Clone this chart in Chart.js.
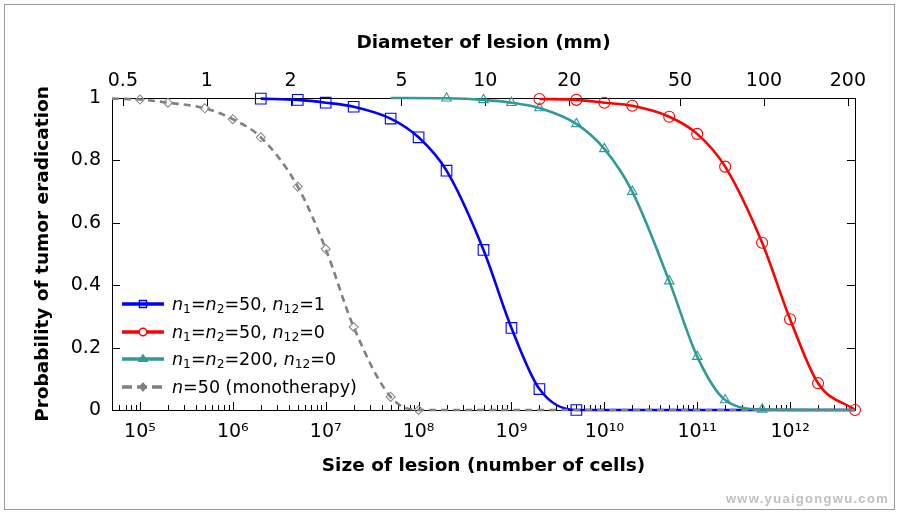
<!DOCTYPE html>
<html>
<head>
<meta charset="utf-8">
<script src="https://cdn.jsdelivr.net/npm/chart.js@4.4.1/dist/chart.umd.min.js"></script>
<style>
    body { margin: 0; background: #fff; }
    #wrap { position: relative; width: 898px; height: 512px; }
    #outer { position: absolute; left: 4px; top: 4px; width: 889px; height: 504px; border: 1px solid #9c9c9c; }
    #legend { position: absolute; left: 0; top: 0; font-family: "DejaVu Sans", sans-serif; font-size: 17.5px; color: #000; }
    .row { position: absolute; left: 121px; height: 28px; display: flex; align-items: center; white-space: nowrap; }
    .row svg { margin-right: 7px; }
    .row sub { font-size: 70%; vertical-align: -0.28em; line-height: 0; }
    #mark { position: absolute; right: 9px; top: 491px; font: bold 13px "Liberation Sans", sans-serif; letter-spacing: 1.3px; color: #c0c0c0; }
</style>
</head>
<body>
<div id="wrap">
    <canvas id="chart" width="898" height="512"></canvas>
    <div id="outer"></div>
    <div id="legend"></div>
    <div id="mark">www.yuaigongwu.com</div>
</div>
<script>
// axes
const xMin = 5e4;
const xMax = 5e12;
const cellTicks = [1e5, 1e6, 1e7, 1e8, 1e9, 1e10, 1e11, 1e12];
const cellTickLabels = ['10⁵', '10⁶', '10⁷', '10⁸', '10⁹', '10¹⁰', '10¹¹', '10¹²'];
const diamTicks = [0.5, 1, 2, 5, 10, 20, 50, 100, 200];
const diamTickLabels = ['0.5', '1', '2', '5', '10', '20', '50', '100', '200'];
const probTicks = [0, 0.2, 0.4, 0.6, 0.8, 1];
const probTickLabels = ['0', '0.2', '0.4', '0.6', '0.8', '1'];
const cellsPerMm3 = 1e6;

// n1=n2=50, n12=1
const blueCells = [2e6, 5e6, 1e7, 2e7, 5e7, 1e8, 2e8, 5e8, 1e9, 2e9, 5e9];
const blueProb = [0.998, 0.994, 0.985, 0.972, 0.934, 0.874, 0.767, 0.513, 0.263, 0.067, 0];
const blueTail = [[xMax, 0]];

// n1=n2=50, n12=0
const redCells = [2e9, 5e9, 1e10, 2e10, 5e10, 1e11, 2e11, 5e11, 1e12, 2e12, 5e12];
const redProb = [0.997, 0.994, 0.985, 0.975, 0.94, 0.885, 0.78, 0.536, 0.291, 0.086, 0];

// n1=n2=200, n12=0
const tealCells = [2e8, 5e8, 1e9, 2e9, 5e9, 1e10, 2e10, 5e10, 1e11, 2e11, 5e11];
const tealProb = [0.999, 0.994, 0.985, 0.968, 0.917, 0.837, 0.70, 0.413, 0.171, 0.032, 0.002];
const tealHead = [[5e7, 1]];
const tealTail = [[xMax, 0]];

// n=50 monotherapy
const grayCells = [1e5, 2e5, 5e5, 1e6, 2e6, 5e6, 1e7, 2e7, 5e7, 1e8];
const grayProb = [0.995, 0.985, 0.967, 0.932, 0.874, 0.716, 0.516, 0.266, 0.042, 0];
const grayHead = [[xMin, 0.998]];
const grayTail = [[xMax, 0]];

const legendLabels = [
    '<i>n</i><sub>1</sub>=<i>n</i><sub>2</sub>=50, <i>n</i><sub>12</sub>=1',
    '<i>n</i><sub>1</sub>=<i>n</i><sub>2</sub>=50, <i>n</i><sub>12</sub>=0',
    '<i>n</i><sub>1</sub>=<i>n</i><sub>2</sub>=200, <i>n</i><sub>12</sub>=0',
    '<i>n</i>=50 (monotherapy)'
];

const BLUE = '#0000ff', RED = '#ff0000', TEAL = '#2f9a9a', GRAY = '#808080';
const FONT = '"DejaVu Sans", sans-serif';

const dMin = Math.cbrt(xMin / (Math.PI / 6 * cellsPerMm3));
const dMax = Math.cbrt(xMax / (Math.PI / 6 * cellsPerMm3));

function pts(cells, prob) {
    return cells.map((c, i) => ({ x: c, y: prob[i] }));
}
function pairs(list) {
    return (list || []).map(p => ({ x: p[0], y: p[1] }));
}

function lineSet(cells, prob, head, tail, color, order, dash) {
    return {
        data: pairs(head).concat(pts(cells, prob), pairs(tail)),
        borderColor: color,
        borderWidth: 2.6,
        borderDash: dash || [],
        pointRadius: 0,
        cubicInterpolationMode: 'monotone',
        fill: false,
        clip: false,
        order: order
    };
}
function markSet(cells, prob, color, style, radius, order) {
    return {
        data: pts(cells, prob),
        showLine: false,
        pointStyle: style,
        pointRadius: radius,
        pointBorderColor: color,
        pointBackgroundColor: 'rgba(0,0,0,0)',
        pointBorderWidth: 1.1,
        clip: false,
        order: order
    };
}

// inward ticks + frame, like the original plot
const innerTicks = {
    id: 'innerTicks',
    beforeDatasetsDraw(chart) {
        const { ctx, chartArea: a, scales } = chart;
        ctx.save();
        ctx.strokeStyle = '#000';
        ctx.lineWidth = 1;
        ctx.beginPath();
        cellTicks.concat([1e4]).forEach(dec => {
            for (let k = 1; k <= 9; k++) {
                const v = k * dec;
                if (v < xMin || v > xMax) continue;
                const px = Math.round(scales.x.getPixelForValue(v)) + 0.5;
                const len = k === 1 ? 8 : 5;
                ctx.moveTo(px, a.bottom);
                ctx.lineTo(px, a.bottom - len);
            }
        });
        diamTicks.forEach(v => {
            const px = Math.round(scales.x2.getPixelForValue(v)) + 0.5;
            ctx.moveTo(px, a.top);
            ctx.lineTo(px, a.top + 8);
        });
        probTicks.forEach(v => {
            const py = Math.round(scales.y.getPixelForValue(v)) + 0.5;
            ctx.moveTo(a.left, py);
            ctx.lineTo(a.left + 8, py);
            ctx.moveTo(a.right, py);
            ctx.lineTo(a.right - 8, py);
        });
        ctx.stroke();
        ctx.strokeRect(Math.round(a.left) + 0.5, Math.round(a.top) + 0.5,
            Math.round(a.right - a.left), Math.round(a.bottom - a.top));
        ctx.restore();
    }
};

Chart.defaults.font.family = FONT;
Chart.defaults.color = '#000';

new Chart(document.getElementById('chart'), {
    type: 'line',
    data: {
        datasets: [
            markSet(grayCells, grayProb, '#8c8c8c', 'rectRot', 4.5, 0),
            lineSet(grayCells, grayProb, grayHead, grayTail, GRAY, 1, [7, 5]),
            markSet(redCells, redProb, RED, 'circle', 5.5, 2),
            lineSet(redCells, redProb, null, null, RED, 3),
            markSet(tealCells, tealProb, TEAL, 'triangle', 5.5, 4),
            lineSet(tealCells, tealProb, tealHead, tealTail, TEAL, 5),
            markSet(blueCells, blueProb, BLUE, 'rect', 7.5, 6),
            lineSet(blueCells, blueProb, null, blueTail, BLUE, 7)
        ]
    },
    options: {
        responsive: false,
        animation: false,
        layout: { padding: { left: 0, right: 43, top: 0, bottom: 0 } },
        plugins: { legend: { display: false }, tooltip: { enabled: false } },
        scales: {
            x: {
                type: 'logarithmic',
                position: 'bottom',
                min: xMin,
                max: xMax,
                afterBuildTicks: s => { s.ticks = cellTicks.map(v => ({ value: v })); },
                afterFit: s => { s.height = 102; },
                grid: { display: false, drawTicks: false },
                border: { display: false },
                ticks: {
                    autoSkip: false, maxRotation: 0, padding: 11,
                    font: { size: 19 },
                    callback: (v, i) => cellTickLabels[i]
                },
                title: {
                    display: true, text: 'Size of lesion (number of cells)',
                    font: { size: 18.5, weight: 'bold' }, padding: { top: 0, bottom: 35 }
                }
            },
            x2: {
                type: 'logarithmic',
                position: 'top',
                min: dMin,
                max: dMax,
                afterBuildTicks: s => { s.ticks = diamTicks.map(v => ({ value: v })); },
                afterFit: s => { s.height = 98; },
                grid: { display: false, drawTicks: false },
                border: { display: false },
                ticks: {
                    autoSkip: false, maxRotation: 0, padding: 6,
                    font: { size: 19 },
                    callback: (v, i) => diamTickLabels[i]
                },
                title: {
                    display: true, text: 'Diameter of lesion (mm)',
                    font: { size: 18.5, weight: 'bold' }, padding: { top: 32, bottom: 0 }
                }
            },
            y: {
                min: 0,
                max: 1,
                afterBuildTicks: s => { s.ticks = probTicks.map(v => ({ value: v })); },
                afterFit: s => { s.width = 112; },
                grid: { display: false, drawTicks: false },
                border: { display: false },
                ticks: {
                    padding: 11,
                    font: { size: 19 },
                    callback: (v, i) => probTickLabels[i]
                },
                title: {
                    display: true, text: 'Probability of tumor eradication',
                    font: { size: 18.5, weight: 'bold' }, padding: { top: 32, bottom: 0 }
                }
            }
        }
    },
    plugins: [innerTicks]
});

// legend: line + marker, as in the original
const legendIcons = [
    '<line x1="1" y1="8" x2="43" y2="8" stroke="' + BLUE + '" stroke-width="3.5"/>' +
        '<rect x="18.5" y="4.5" width="7" height="7" fill="none" stroke="' + BLUE + '" stroke-width="1.5"/>',
    '<line x1="1" y1="8" x2="43" y2="8" stroke="' + RED + '" stroke-width="3.5"/>' +
        '<circle cx="22" cy="8" r="3.8" fill="#fff" stroke="' + RED + '" stroke-width="1.5"/>',
    '<line x1="1" y1="8" x2="43" y2="8" stroke="' + TEAL + '" stroke-width="3.5"/>' +
        '<polygon points="22,2.5 27.5,11 16.5,11" fill="' + TEAL + '"/>',
    '<line x1="1" y1="8" x2="43" y2="8" stroke="' + GRAY + '" stroke-width="3.5" stroke-dasharray="10 5"/>' +
        '<polygon points="22,3 26,8 22,13 18,8" fill="' + GRAY + '"/>'
];
const legend = document.getElementById('legend');
legendLabels.forEach((label, i) => {
    const row = document.createElement('div');
    row.className = 'row';
    row.style.top = (290 + i * 27.6) + 'px';
    row.innerHTML = '<svg width="44" height="16">' + legendIcons[i] + '</svg><span>' + label + '</span>';
    legend.appendChild(row);
});
</script>
</body>
</html>
